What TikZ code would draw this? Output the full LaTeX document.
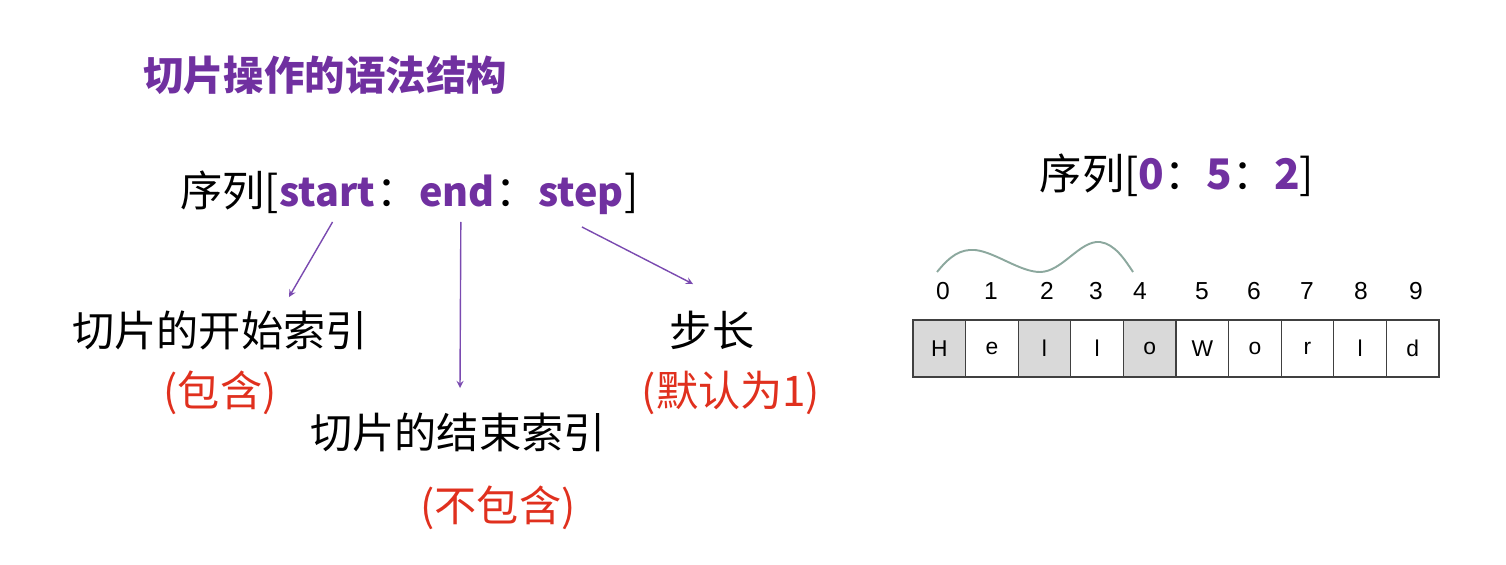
\documentclass[tikz,border=0pt]{standalone}
\usepackage{fontspec}
\setmainfont{Noto Sans CJK SC}
\newfontfamily\arialfont{Liberation Sans}
\usetikzlibrary{positioning}
\definecolor{purp}{RGB}{112,48,160}
\definecolor{arrcol}{RGB}{122,74,176}
\definecolor{redtxt}{RGB}{224,48,30}
\definecolor{wavecol}{RGB}{140,168,158}
\definecolor{cellgray}{RGB}{217,217,217}
\begin{document}
\begin{tikzpicture}[x=0.02cm, y=-0.02cm, >=stealth,
    big/.style={font=\fontsize{24}{28}\selectfont, inner sep=0pt},
    key/.style={big, text=purp, font=\fontsize{22.5}{27}\selectfont\bfseries},
    note/.style={big, text=redtxt},
    arr/.style={->, draw=arrcol, line width=0.8pt},
    cell/.style={draw=black!75, line width=0.6pt, minimum width=1.052cm,
        minimum height=1.14cm, inner sep=0pt, font=\arialfont\fontsize{13}{15}\selectfont},
    idx/.style={inner sep=0pt, font=\arialfont\fontsize{14}{16}\selectfont}]
    \useasboundingbox (0,0) rectangle (1506,564);

    % title
    \node[key, font=\fontsize{23}{27}\selectfont\bfseries] (title) at (325,75) {切片操作的语法结构};

    % slicing syntax
    \node[big, anchor=base west] (f0) at (180,206) {序列[};
    \node[key, anchor=base west] (f1) at (f0.base east) {start};
    \node[big, anchor=base west] (f2) at (f1.base east) {：};
    \node[key, anchor=base west] (f3) at (f2.base east) {end};
    \node[big, anchor=base west] (f4) at (f3.base east) {：};
    \node[key, anchor=base west] (f5) at (f4.base east) {step};
    \node[big, anchor=base west] (f6) at (f5.base east) {]};

    \node[big] (lab1) at (220,330) {切片的开始索引};
    \node[note] (inc) at (220,393) {(包含)};
    \node[big] (lab2) at (458,432) {切片的结束索引};
    \node[note] (exc) at (498,508) {(不包含)};
    \node[big] (lab3) at (712,330) {步长};
    \node[note] (dft) at (731,393) {(默认为1)};

    \draw[arr] ([xshift=0.1cm, yshift=-0.32cm]f1.base) -- ([xshift=1.38cm, yshift=0.66cm]lab1.center);
    \draw[arr] ([xshift=0.08cm, yshift=-0.32cm]f3.base) -- ([xshift=0.04cm, yshift=0.88cm]lab2.center);
    \draw[arr] ([xshift=0.02cm, yshift=-0.42cm]f5.base) -- ([xshift=-0.38cm, yshift=0.92cm]lab3.center);

    % example
    \node[big] (seq) at (1177,175) {序列[\textcolor{purp}{\bfseries 0}：\textcolor{purp}{\bfseries 5}：\textcolor{purp}{\bfseries 2}]};

    \draw[wavecol, line width=1.1pt] (937,272) .. controls (950,256) and (960,249) .. (975,250)
        .. controls (995,252) and (1020,272) .. (1040,272)
        .. controls (1062,272) and (1080,240) .. (1100,242)
        .. controls (1115,244) and (1125,260) .. (1133,272);

    \foreach \n/\x in {0/943,1/991,2/1047,3/1096,4/1140,5/1202,6/1254,7/1307,8/1361,9/1416}
        \node[idx] (n\n) at (\x,291) {\n};

    \foreach \c/\f [count=\i from 0] in {H/cellgray,e/white,l/cellgray,l/white,o/cellgray,W/white,o/white,r/white,l/white,d/white}
        \node[cell, fill=\f] (c\i) at (939.3+52.6*\i,348.5) {\c};
\end{tikzpicture}
\end{document}
